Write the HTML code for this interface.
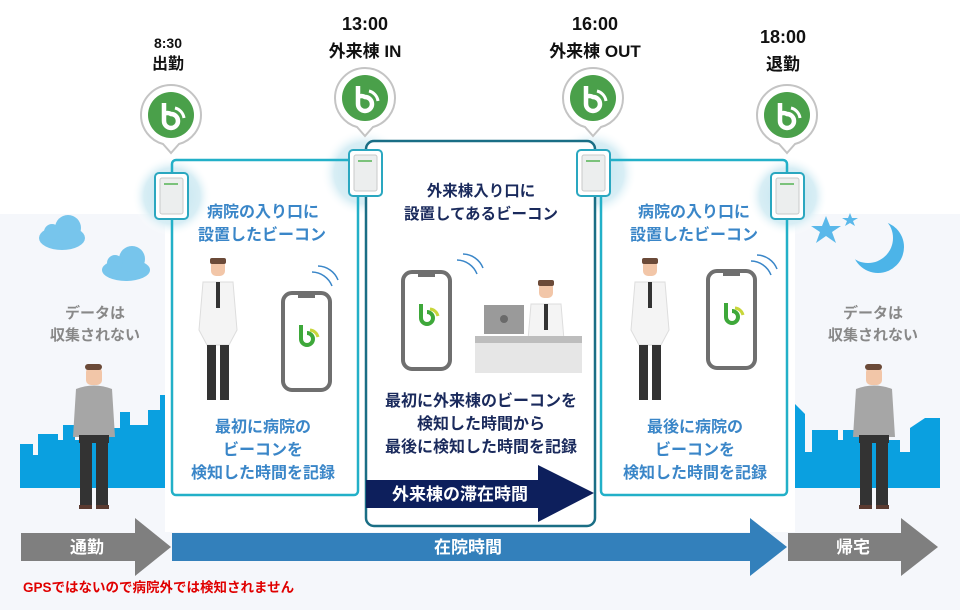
<!DOCTYPE html>
<html><head><meta charset="utf-8"><style>
html,body{margin:0;padding:0;width:960px;height:610px;overflow:hidden;background:#fff}
svg{display:block}
text{font-family:"Liberation Sans","Noto Sans CJK JP",sans-serif;font-weight:bold}
</style></head><body>
<svg width="960" height="610" viewBox="0 0 960 610" xmlns="http://www.w3.org/2000/svg">
<defs>
<radialGradient id="glow" cx="0.5" cy="0.5" r="0.5">
<stop offset="0" stop-color="#bfe3ee"/><stop offset="0.7" stop-color="#d8eef5"/><stop offset="1" stop-color="#ffffff" stop-opacity="0"/>
</radialGradient>
<mask id="moonm"><rect x="800" y="200" width="160" height="100" fill="#fff"/><circle cx="868" cy="238" r="25" fill="#000"/></mask>
<g id="pin">
<path d="M-30,0 A30,30 0 1,1 30,0 A30,30 0 0,1 8,29 L0,38 L-8,29 A30,30 0 0,1 -30,0Z" fill="#fff" stroke="#c4c4c4" stroke-width="2"/>
<circle r="23" fill="#4aa04a"/>
<path d="M-7,-12 v18 a7,7 0 1,0 7,-7 a7,7 0 0,0 -7,0" fill="none" stroke="#fff" stroke-width="4.5"/>
<path d="M4,-7 a12,12 0 0,1 9,10" fill="none" stroke="#fff" stroke-width="3"/>
</g>
<g id="dev">
<rect x="0" y="0" width="33" height="46" rx="4" fill="#fff" stroke="#2aa7c0" stroke-width="2"/>
<rect x="5" y="5" width="23" height="36" rx="2" fill="#eceeee" stroke="#c9c9c9"/>
<rect x="9" y="10" width="14" height="2" fill="#7bc27b"/>
</g>
<g id="phone">
<rect x="0" y="0" width="47" height="97" rx="9" fill="#fff" stroke="#6f6f6f" stroke-width="4"/>
<rect x="15" y="1" width="17" height="4" fill="#6f6f6f"/>
<path d="M18,32 v14 a6,6 0 1,0 6,-6" fill="none" stroke="#3ea83a" stroke-width="4"/>
<path d="M27,37 a9,9 0 0,1 8,7" fill="none" stroke="#c8d63a" stroke-width="3"/>
</g>
<g id="doctop">
<rect x="12" y="0" width="14" height="16" rx="5" fill="#f2c6a8"/>
<rect x="11" y="-2" width="16" height="6" rx="2" fill="#6b4a38"/>
<path d="M4,22 L34,22 L38,70 L30,85 L8,85 L0,70Z" fill="#f4f4f4" stroke="#ddd"/>
<rect x="17" y="22" width="4" height="26" fill="#333"/>
</g>
<g id="doc">
<use href="#doctop"/>
<rect x="8" y="85" width="9" height="55" fill="#333"/>
<rect x="21" y="85" width="9" height="55" fill="#333"/>
</g>
<g id="man">
<rect x="-8" y="0" width="16" height="18" rx="5" fill="#f2c6a8"/>
<rect x="-9" y="-3" width="17" height="6" rx="3" fill="#6b4a38"/>
<path d="M-18,22 Q0,15 18,22 L21,70 L-21,70Z" fill="#a6a6a6"/>
<rect x="-15" y="68" width="30" height="8" fill="#333"/>
<rect x="-14" y="74" width="12" height="66" fill="#333"/>
<rect x="2" y="74" width="12" height="66" fill="#333"/>
<rect x="-15" y="138" width="13" height="4" fill="#5a3a30"/>
<rect x="2" y="138" width="13" height="4" fill="#5a3a30"/>
</g>
<g id="waves"><path d="M0,0 a22,22 0 0,1 20,14" fill="none" stroke="#3a86c8" stroke-width="1.5"/><path d="M-6,6 a22,22 0 0,1 20,14" fill="none" stroke="#3a86c8" stroke-width="1.5"/></g>
</defs>

<rect x="0" y="214" width="960" height="396" fill="#f5f7fb"/>
<rect x="165" y="214" width="630" height="318" fill="#fff"/>

<g fill="#77c5ec">
<ellipse cx="62" cy="238" rx="23" ry="12"/><circle cx="68" cy="228" r="13"/><circle cx="52" cy="232" r="8"/>
<ellipse cx="126" cy="270" rx="24" ry="11"/><circle cx="132" cy="259" r="13"/><circle cx="115" cy="263" r="8"/>
</g>
<g fill="#5ab8ea">
<polygon points="826,216 830,226 841,226 832,232 836,243 826,236 816,243 820,232 811,226 822,226"/>
<polygon points="850,213 852,218 858,218 853,221 855,226 850,223 845,226 847,221 842,218 848,218"/>
</g>
<circle cx="878" cy="247" r="26" fill="#4cb4e8" mask="url(#moonm)"/>

<path d="M20,488 V444 H33 V455 H38 L38,434 H58 V440 H63 V425 H75 V440 H95 V428 H120 V412 H130 V425 H148 V410 H160 V395 H165 V488Z" fill="#0aa0e0"/>
<path d="M795,488 V404 L805,414 V452 H812 V430 H838 V440 H843 V430 H860 V440 H900 V452 H910 V428 L925,418 H940 V488Z" fill="#0aa0e0"/>
<use href="#man" x="94" y="367"/>
<use href="#man" x="874" y="367"/>

<text x="95" y="318" font-size="15" fill="#888" text-anchor="middle">データは</text>
<text x="95" y="340" font-size="15" fill="#888" text-anchor="middle">収集されない</text>
<text x="873" y="318" font-size="15" fill="#888" text-anchor="middle">データは</text>
<text x="873" y="340" font-size="15" fill="#888" text-anchor="middle">収集されない</text>

<circle cx="172" cy="196" r="40" fill="url(#glow)"/>
<circle cx="365" cy="173" r="44" fill="url(#glow)"/>
<circle cx="593" cy="173" r="44" fill="url(#glow)"/>
<circle cx="788" cy="196" r="40" fill="url(#glow)"/>

<rect x="172" y="160" width="186" height="335" rx="4" fill="none" stroke="#22b0c8" stroke-width="2.5"/>
<rect x="601" y="160" width="186" height="335" rx="4" fill="none" stroke="#22b0c8" stroke-width="2.5"/>
<rect x="366" y="141" width="229" height="385" rx="8" fill="#fff" stroke="#1a6e85" stroke-width="2.5"/>

<use href="#dev" x="155" y="173"/>
<use href="#dev" x="349" y="150"/>
<use href="#dev" x="577" y="150"/>
<use href="#dev" x="771" y="173"/>

<use href="#pin" x="171" y="115"/>
<use href="#pin" x="365" y="98"/>
<use href="#pin" x="593" y="98"/>
<use href="#pin" x="787" y="115"/>

<text x="168" y="48" font-size="14" text-anchor="middle" fill="#111">8:30</text>
<text x="168" y="69" font-size="16" text-anchor="middle" fill="#111">出勤</text>
<text x="365" y="30" font-size="18" text-anchor="middle" fill="#111">13:00</text>
<text x="365" y="57" font-size="17" text-anchor="middle" fill="#111">外来棟 IN</text>
<text x="595" y="30" font-size="18" text-anchor="middle" fill="#111">16:00</text>
<text x="595" y="57" font-size="17" text-anchor="middle" fill="#111">外来棟 OUT</text>
<text x="783" y="43" font-size="18" text-anchor="middle" fill="#111">18:00</text>
<text x="783" y="70" font-size="17" text-anchor="middle" fill="#111">退勤</text>

<text x="263" y="217" font-size="16" fill="#3a86c8" text-anchor="middle">病院の入り口に</text>
<text x="262" y="240" font-size="16" fill="#3a86c8" text-anchor="middle">設置したビーコン</text>
<use href="#doc" x="199" y="260"/>
<use href="#phone" x="283" y="293"/>
<use href="#waves" x="318" y="266"/>
<text x="263" y="432" font-size="16" fill="#3a86c8" text-anchor="middle">最初に病院の</text>
<text x="263" y="455" font-size="16" fill="#3a86c8" text-anchor="middle">ビーコンを</text>
<text x="263" y="478" font-size="16" fill="#3a86c8" text-anchor="middle">検知した時間を記録</text>

<text x="694" y="217" font-size="16" fill="#3a86c8" text-anchor="middle">病院の入り口に</text>
<text x="694" y="240" font-size="16" fill="#3a86c8" text-anchor="middle">設置したビーコン</text>
<use href="#doc" x="631" y="260"/>
<use href="#phone" x="708" y="271"/>
<use href="#waves" x="757" y="255"/>
<text x="695" y="432" font-size="16" fill="#3a86c8" text-anchor="middle">最後に病院の</text>
<text x="695" y="455" font-size="16" fill="#3a86c8" text-anchor="middle">ビーコンを</text>
<text x="695" y="478" font-size="16" fill="#3a86c8" text-anchor="middle">検知した時間を記録</text>

<text x="481" y="196" font-size="15.5" fill="#1a2a5c" text-anchor="middle">外来棟入り口に</text>
<text x="481" y="219" font-size="15.5" fill="#1a2a5c" text-anchor="middle">設置してあるビーコン</text>
<use href="#phone" x="403" y="272"/>
<use href="#waves" x="463" y="254"/>
<use href="#doctop" x="527" y="282" transform="translate(0,0)"/>
<rect x="475" y="336" width="107" height="37" fill="#e6e6e6"/>
<rect x="475" y="336" width="107" height="7" fill="#bdbdbd"/>
<rect x="484" y="305" width="40" height="29" fill="#9a9a9a"/>
<circle cx="504" cy="319" r="4" fill="#6a6a6a"/>
<text x="481" y="406" font-size="16" fill="#1a2a5c" text-anchor="middle">最初に外来棟のビーコンを</text>
<text x="481" y="429" font-size="16" fill="#1a2a5c" text-anchor="middle">検知した時間から</text>
<text x="481" y="452" font-size="16" fill="#1a2a5c" text-anchor="middle">最後に検知した時間を記録</text>
<polygon points="366,480 538,480 538,465 594,493 538,522 538,508 366,508" fill="#0d1f5c"/>
<text x="460" y="500" font-size="17" fill="#fff" text-anchor="middle">外来棟の滞在時間</text>

<polygon points="21,533 135,533 135,518 171,547 135,576 135,561 21,561" fill="#7f7f7f"/>
<text x="87" y="553" font-size="17" fill="#fff" text-anchor="middle">通勤</text>
<polygon points="172,533 750,533 750,518 787,547 750,576 750,561 172,561" fill="#3380bb"/>
<text x="468" y="553" font-size="17" fill="#fff" text-anchor="middle">在院時間</text>
<polygon points="788,533 901,533 901,518 938,547 901,576 901,561 788,561" fill="#7f7f7f"/>
<text x="853" y="553" font-size="17" fill="#fff" text-anchor="middle">帰宅</text>

<text x="23" y="592" font-size="13.5" fill="#e00000">GPSではないので病院外では検知されません</text>
</svg>
</body></html>
